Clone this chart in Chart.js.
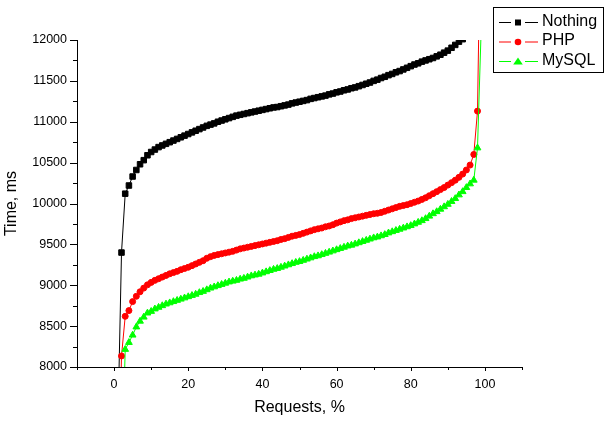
<!DOCTYPE html>
<html lang="en">
<head>
<meta charset="UTF-8">
<title>Time vs Requests</title>
<script src="https://cdn.jsdelivr.net/npm/chart.js"></script>
<style>
  body { margin: 0; background: #fff; }
  #wrap { width: 611px; height: 428px; }
</style>
</head>
<body>
<div id="wrap"><canvas id="timeChart" width="611" height="428"></canvas></div>
<script>
// percent of requests (x) and response time in ms for each setup
const requests = [1, 2, 3, 4, 5, 6, 7, 8, 9, 10, 11, 12, 13, 14, 15, 16, 17, 18, 19, 20,
  21, 22, 23, 24, 25, 26, 27, 28, 29, 30, 31, 32, 33, 34, 35, 36, 37, 38, 39, 40,
  41, 42, 43, 44, 45, 46, 47, 48, 49, 50, 51, 52, 53, 54, 55, 56, 57, 58, 59, 60,
  61, 62, 63, 64, 65, 66, 67, 68, 69, 70, 71, 72, 73, 74, 75, 76, 77, 78, 79, 80,
  81, 82, 83, 84, 85, 86, 87, 88, 89, 90, 91, 92, 93, 94, 95, 96, 97, 98, 99];

const nothing = [7250, 9400, 10120, 10220, 10330, 10410, 10480, 10530, 10590, 10630,
  10660, 10690, 10710, 10730, 10750, 10770, 10790, 10810, 10830, 10850,
  10870, 10890, 10910, 10930, 10950, 10965, 10980, 11000, 11015, 11030,
  11045, 11060, 11075, 11085, 11095, 11105, 11115, 11125, 11135, 11145,
  11155, 11165, 11175, 11180, 11190, 11200, 11210, 11225, 11235, 11245,
  11255, 11265, 11280, 11290, 11300, 11310, 11320, 11335, 11345, 11360,
  11370, 11385, 11395, 11410, 11420, 11435, 11450, 11465, 11480, 11500,
  11515, 11535, 11550, 11570, 11585, 11605, 11620, 11640, 11660, 11680,
  11700, 11715, 11735, 11750, 11765, 11780, 11800, 11820, 11845, 11870,
  11905, 11940, 11980, 12010, 12150, 12400, 12800, 13500, 15000];

const php = [6000, 8135, 8620, 8690, 8800, 8865, 8920, 8965, 9005, 9035,
  9060, 9080, 9100, 9120, 9140, 9155, 9170, 9190, 9205, 9220,
  9240, 9260, 9280, 9300, 9330, 9350, 9365, 9375, 9385, 9395,
  9405, 9415, 9430, 9445, 9455, 9465, 9475, 9485, 9495, 9505,
  9515, 9525, 9535, 9545, 9560, 9570, 9585, 9600, 9610, 9620,
  9635, 9650, 9665, 9680, 9690, 9700, 9715, 9725, 9740, 9760,
  9775, 9790, 9800, 9815, 9825, 9835, 9845, 9855, 9865, 9875,
  9880, 9890, 9905, 9920, 9935, 9950, 9965, 9975, 9985, 10000,
  10015, 10030, 10050, 10070, 10095, 10120, 10145, 10170, 10195, 10225,
  10255, 10285, 10320, 10360, 10410, 10470, 10600, 11130, 14000];

const mysql = [5000, 6500, 8215, 8300, 8390, 8490, 8560, 8610, 8660, 8680,
  8710, 8730, 8750, 8770, 8785, 8800, 8815, 8830, 8845, 8860,
  8875, 8890, 8910, 8925, 8945, 8965, 8980, 8995, 9010, 9025,
  9040, 9050, 9060, 9075, 9085, 9100, 9115, 9125, 9135, 9150,
  9165, 9180, 9195, 9205, 9220, 9235, 9250, 9265, 9280, 9290,
  9305, 9320, 9335, 9350, 9360, 9375, 9390, 9405, 9420, 9435,
  9450, 9465, 9480, 9490, 9505, 9520, 9535, 9550, 9565, 9580,
  9590, 9605, 9620, 9640, 9655, 9670, 9685, 9700, 9715, 9730,
  9750, 9770, 9790, 9815, 9845, 9875, 9900, 9930, 9960, 9990,
  10025, 10060, 10105, 10145, 10195, 10240, 10285, 10680, 12150];

const xTicks = [0, 20, 40, 60, 80, 100];
const xMinor = [-10, 10, 30, 50, 70, 90, 110];
const yTicks = [8000, 8500, 9000, 9500, 10000, 10500, 11000, 11500, 12000];
const yMinor = [8250, 8750, 9250, 9750, 10250, 10750, 11250, 11750];

const toPoints = ys => requests.map((x, i) => ({ x: x, y: ys[i] }));

Chart.defaults.font.family = '"Liberation Sans", Arial, sans-serif';
Chart.defaults.color = '#000';

// tick marks: Origin style, major + minor, pointing outwards
const axisTicks = {
  id: 'axisTicks',
  afterDraw(chart) {
    const { ctx, chartArea } = chart;
    const x = chart.scales.x, y = chart.scales.y;
    ctx.save();
    ctx.strokeStyle = '#000';
    ctx.lineWidth = 1;
    ctx.beginPath();
    yTicks.forEach(v => {
      const py = Math.round(y.getPixelForValue(v)) + 0.5;
      ctx.moveTo(chartArea.left - 7, py); ctx.lineTo(chartArea.left + 1, py);
    });
    yMinor.forEach(v => {
      const py = Math.round(y.getPixelForValue(v)) + 0.5;
      ctx.moveTo(chartArea.left - 4, py); ctx.lineTo(chartArea.left + 1, py);
    });
    xTicks.forEach(v => {
      const px = Math.round(x.getPixelForValue(v)) + 0.5;
      ctx.moveTo(px, chartArea.bottom); ctx.lineTo(px, chartArea.bottom + 4);
    });
    xMinor.forEach(v => {
      const px = Math.round(x.getPixelForValue(v)) + 0.5;
      ctx.moveTo(px, chartArea.bottom); ctx.lineTo(px, chartArea.bottom + 3);
    });
    ctx.stroke();
    ctx.restore();
  }
};

function drawMarker(ctx, style, cx, cy) {
  ctx.beginPath();
  if (style === 'rect') {
    ctx.rect(cx - 3, cy - 3, 6, 6);
  } else if (style === 'circle') {
    ctx.arc(cx, cy, 3.3, 0, Math.PI * 2);
  } else {
    ctx.moveTo(cx, cy - 4);
    ctx.lineTo(cx + 4.8, cy + 3);
    ctx.lineTo(cx - 4.8, cy + 3);
    ctx.closePath();
  }
  ctx.fill();
}

// boxed legend in the top right corner, line - marker - line
const boxLegend = {
  id: 'boxLegend',
  afterDraw(chart) {
    const ctx = chart.ctx;
    ctx.save();
    ctx.strokeStyle = '#000';
    ctx.lineWidth = 1;
    ctx.strokeRect(493.5, 7.5, 110, 65);
    ctx.font = '16px "Liberation Sans", Arial, sans-serif';
    ctx.textBaseline = 'middle';
    ['Nothing', 'PHP', 'MySQL'].forEach((name, i) => {
      const ds = chart.data.datasets.find(d => d.label === name);
      const yy = 22.5 + i * 19.5;
      ctx.strokeStyle = ds.borderColor;
      ctx.fillStyle = ds.borderColor;
      ctx.beginPath();
      ctx.moveTo(499, yy); ctx.lineTo(511, yy);
      ctx.moveTo(525, yy); ctx.lineTo(538, yy);
      ctx.stroke();
      drawMarker(ctx, ds.pointStyle, 518, yy);
      ctx.fillStyle = '#000';
      ctx.fillText(name, 542, yy - 1);
    });
    ctx.restore();
  }
};

new Chart(document.getElementById('timeChart'), {
  type: 'line',
  data: {
    datasets: [
      {
        label: 'Nothing',
        data: toPoints(nothing),
        borderColor: '#000000',
        backgroundColor: '#000000',
        borderWidth: 1,
        pointStyle: 'rect',
        pointRadius: 3.9,
        pointBorderWidth: 1,
        order: 2,
        clip: 0
      },
      {
        label: 'PHP',
        data: toPoints(php),
        borderColor: '#ff0000',
        backgroundColor: '#ff0000',
        borderWidth: 1,
        pointStyle: 'circle',
        pointRadius: 3,
        pointBorderWidth: 1,
        order: 1,
        clip: 0
      },
      {
        label: 'MySQL',
        data: toPoints(mysql),
        borderColor: '#00ff00',
        backgroundColor: '#00ff00',
        borderWidth: 1,
        pointStyle: 'triangle',
        pointRadius: 3.9,
        pointBorderWidth: 1,
        order: 0,
        clip: 0
      }
    ]
  },
  options: {
    responsive: false,
    animation: false,
    layout: { padding: { top: 40, right: 89, bottom: 0, left: 0 } },
    plugins: { legend: { display: false }, tooltip: { enabled: false } },
    scales: {
      x: {
        type: 'linear',
        min: -10,
        max: 110,
        grid: { display: false, drawTicks: false },
        border: { display: true, color: '#000', width: 1 },
        ticks: { padding: 10, font: { size: 12.5 }, maxRotation: 0, callback: v => String(v) },
        afterBuildTicks: s => { s.ticks = xTicks.map(v => ({ value: v })); },
        afterFit: s => { s.height = 61; },
        title: { display: true, text: 'Requests, %', font: { size: 16 }, padding: { top: 0, bottom: 11 } }
      },
      y: {
        type: 'linear',
        min: 8000,
        max: 12000,
        grid: { display: false, drawTicks: false },
        border: { display: true, color: '#000', width: 1 },
        ticks: { padding: 10, font: { size: 12.5 }, callback: v => String(v) },
        afterBuildTicks: s => { s.ticks = yTicks.map(v => ({ value: v })); },
        afterFit: s => { s.width = 77; },
        title: { display: true, text: 'Time, ms', font: { size: 16 }, padding: { top: 2, bottom: 0 } }
      }
    }
  },
  plugins: [axisTicks, boxLegend]
});
</script>
</body>
</html>
